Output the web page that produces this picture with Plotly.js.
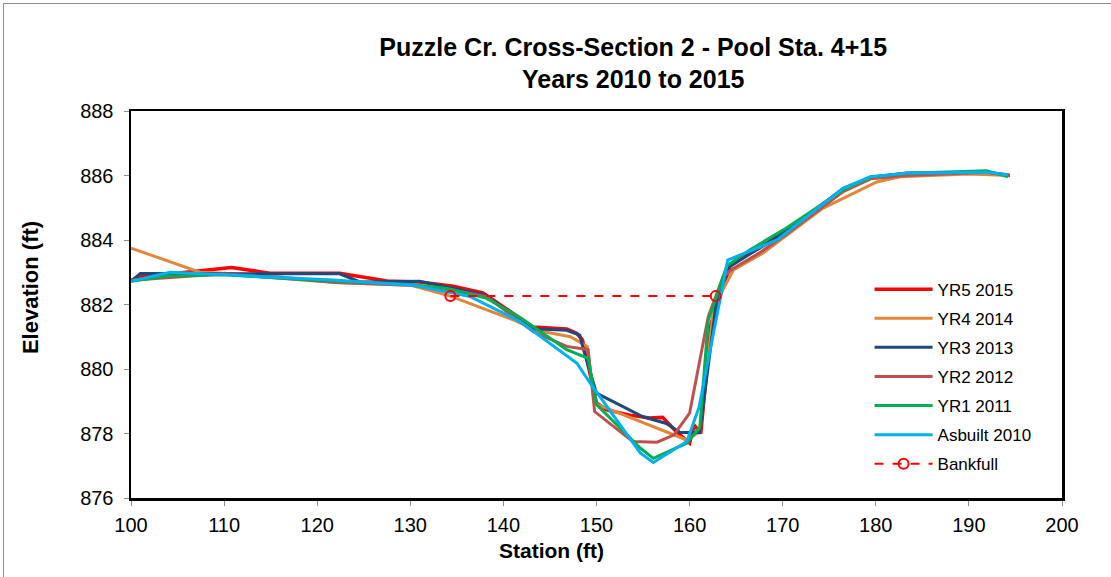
<!DOCTYPE html>
<html>
<head>
<meta charset="utf-8">
<script src="https://cdn.plot.ly/plotly-3.0.1.min.js"></script>
<style>
html,body{margin:0;padding:0;background:#fff;}
#wrap{position:relative;width:1111px;height:577px;}
#chart{width:1111px;height:577px;}
#frameL{position:absolute;left:3px;top:3px;width:1px;height:574px;background:#8c8c8c;pointer-events:none;}
#frameT{position:absolute;left:3px;top:3px;width:1108px;height:1px;background:#8c8c8c;pointer-events:none;}
</style>
</head>
<body>
<div id="wrap"><div id="chart"></div><div id="frameL"></div><div id="frameT"></div></div>
<script>
// ---- Data ----
const yr5x = [100, 101, 110.8, 114.9, 122.4, 127.5, 131, 134.6, 137.8, 143.2, 146.8, 147.9, 148.5, 150.0, 151.1, 153.6, 155.7, 157.1, 158.6, 160.0, 160.5, 161.2, 162.3, 164.4, 167.5, 170.5, 176.5, 179.5, 183.3, 192, 194.4];
const yr5y = [882.75, 882.85, 883.15, 882.97, 882.97, 882.73, 882.7, 882.57, 882.36, 881.3, 881.24, 881.1, 880.9, 878.95, 878.73, 878.57, 878.48, 878.5, 878.05, 877.7, 878.26, 878.0, 881.4, 883.25, 883.75, 884.3, 885.55, 885.95, 886.05, 886.1, 886.0];

const yr4x = [100, 107.4, 110, 115, 122, 130, 134.3, 141.1, 143.5, 147.2, 149.0, 149.8, 159.7, 161.1, 162.6, 164.7, 167.9, 174.3, 180.1, 182.6, 190, 194.4];
const yr4y = [883.75, 883.0, 882.97, 882.88, 882.68, 882.6, 882.26, 881.52, 881.2, 881.0, 880.7, 878.93, 877.8, 878.06, 881.93, 883.07, 883.6, 884.98, 885.8, 885.96, 886.05, 886.0];

const yr3x = [100, 101, 122.4, 124.6, 131, 134.5, 138, 143.2, 146.8, 148.2, 148.6, 150.0, 153.2, 155.0, 157.5, 159.0, 161.1, 162.9, 164.3, 170.5, 176.5, 179.5, 183.3, 192, 194.4];
const yr3y = [882.72, 882.96, 882.95, 882.7, 882.72, 882.5, 882.3, 881.25, 881.2, 881.05, 880.6, 879.25, 878.78, 878.52, 878.31, 878.03, 878.03, 882.14, 883.17, 884.3, 885.6, 885.95, 886.08, 886.1, 886.0];

const yr2x = [100, 110, 122, 130, 134.5, 138.2, 143.2, 146.8, 149.1, 149.8, 153.9, 156.5, 158.3, 160.0, 162.0, 163.6, 164.6, 167.5, 170.5, 176.5, 179.5, 183.3, 192, 194.4];
const yr2y = [882.75, 882.95, 882.68, 882.6, 882.45, 882.24, 881.16, 880.7, 880.6, 878.68, 877.75, 877.73, 877.95, 878.63, 881.62, 882.86, 883.1, 883.6, 884.2, 885.5, 885.9, 886.0, 886.1, 886.0];

const yr1x = [100, 104, 110, 120, 130, 134, 138.2, 141.8, 146.8, 149.1, 150.0, 154.7, 156.1, 159.7, 161.1, 162.0, 164.0, 166.5, 170.4, 176.5, 179.5, 183.3, 191.9, 194.2];
const yr1y = [882.72, 882.88, 882.92, 882.75, 882.62, 882.5, 882.19, 881.6, 880.6, 880.33, 878.9, 877.55, 877.23, 877.7, 878.2, 881.5, 883.2, 883.7, 884.37, 885.55, 885.95, 886.07, 886.15, 885.96];

const asbx = [100, 104.2, 109.6, 121.7, 130.3, 133.9, 136.4, 141.8, 147.9, 149.3, 154.7, 156.1, 159.7, 161.0, 164.1, 169.4, 176.5, 179.4, 183.3, 191.9, 194.2];
const asby = [882.72, 883.0, 882.93, 882.76, 882.6, 882.4, 882.25, 881.47, 880.18, 879.57, 877.4, 877.1, 877.75, 878.8, 883.38, 884.0, 885.6, 885.96, 886.07, 886.1, 886.02];

const bankx = [134.3, 162.8];
const banky = [882.26, 882.26];

const names = ["YR5 2015", "YR4 2014", "YR3 2013", "YR2 2012", "YR1 2011", "Asbuilt 2010", "Bankfull"];
const colors = ["#FF0000", "#E2873A", "#1F497D", "#C0504D", "#00B050", "#00B0F0", "#FF0000"];
const xTitle = "Station (ft)";
const yTitle = "Elevation (ft)";

const series = [[yr5x, yr5y], [yr4x, yr4y], [yr3x, yr3y], [yr2x, yr2y], [yr1x, yr1y], [asbx, asby]];
const traces = series.map((s, i) => ({
  x: s[0], y: s[1], type: "scatter", mode: "lines", name: names[i],
  legendgroup: "g" + i,
  line: {color: colors[i], width: i === 0 ? 3.5 : 3}
}));
traces.push({
  x: bankx, y: banky, type: "scatter", mode: "lines+markers", name: names[6],
  legendgroup: "g6",
  line: {color: colors[6], width: 2, dash: "dash"},
  marker: {symbol: "circle-open", size: 10, color: colors[6], line: {width: 2, color: colors[6]}}
});

const font = "Arial, 'Liberation Sans', sans-serif";
const layout = {
  width: 1111, height: 577,
  margin: {l: 131, r: 49, t: 111, b: 79},
  paper_bgcolor: "#fff", plot_bgcolor: "#fff",
  font: {family: font, color: "#000", size: 17},
  title: {
    text: "<b>Puzzle Cr. Cross-Section 2 - Pool Sta. 4+15<br>Years 2010 to 2015</b>",
    font: {family: font, size: 25, color: "#000"},
    xref: "container", x: 0.57, xanchor: "center",
    yref: "container", y: 0.903, yanchor: "top"
  },
  xaxis: {
    range: [100, 200], dtick: 10, tick0: 100,
    showgrid: false, zeroline: false,
    showline: true, linecolor: "#000", linewidth: 2.5, mirror: true,
    ticks: "outside", ticklen: 5, tickcolor: "#8c8c8c", tickwidth: 1,
    tickfont: {family: font, size: 20},
    ticklabelstandoff: 2
  },
  yaxis: {
    range: [876, 888], dtick: 2, tick0: 876,
    showgrid: false, zeroline: false,
    showline: true, linecolor: "#000", linewidth: 2.5, mirror: true,
    ticks: "outside", ticklen: 5, tickcolor: "#8c8c8c", tickwidth: 1,
    tickfont: {family: font, size: 20},
    ticklabelstandoff: 6
  },
  annotations: [
    {text: "<b>" + xTitle + "</b>", xref: "paper", yref: "paper", x: 0.4522, y: -0.1344,
     xanchor: "center", yanchor: "middle", showarrow: false, font: {family: font, size: 21, color: "#000"}},
    {text: "<b>" + yTitle + "</b>", xref: "paper", yref: "paper", x: -0.1085, y: 0.545,
     xanchor: "center", yanchor: "middle", textangle: -90, showarrow: false, font: {family: font, size: 22, color: "#000"}}
  ],
  showlegend: true,
  legend: {
    x: 0.7933, xanchor: "left", y: 0.585, yanchor: "top",
    xref: "paper", yref: "paper",
    bgcolor: "rgba(0,0,0,0)", borderwidth: 0,
    font: {family: font, size: 17, color: "#000"},
    traceorder: "grouped", tracegroupgap: 4,
    itemwidth: 58
  }
};

Plotly.newPlot("chart", traces, layout, {displayModeBar: false, staticPlot: true});
</script>
</body>
</html>
